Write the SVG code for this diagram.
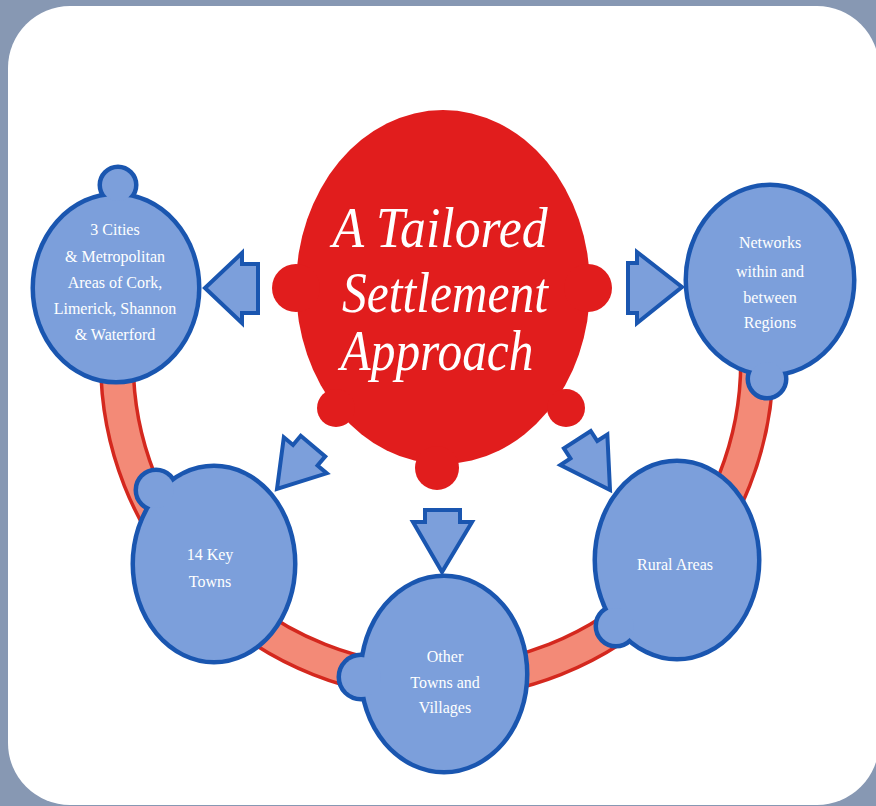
<svg xmlns="http://www.w3.org/2000/svg" width="876" height="806" viewBox="0 0 876 806">
<style>
.edge{fill:none;stroke:#1a56b0;stroke-width:9;stroke-linejoin:round}
.fill{fill:#7c9fdb}
.arrow{fill:#7c9fdb;stroke:#1a56b0;stroke-width:4;stroke-linejoin:miter}
.lbl{font-family:"Liberation Serif","DejaVu Serif",serif;font-size:16px;fill:#ffffff;text-anchor:middle}
.title{font-family:"Liberation Serif","DejaVu Serif",serif;font-style:italic;font-size:56px;fill:#ffffff;text-anchor:middle}
.red{fill:#e11d1d}
</style>
<rect x="0" y="0" width="876" height="806" fill="#8798b3"/>
<rect x="8" y="6" width="871" height="799" rx="62" ry="62" fill="#ffffff"/>

<g id="connectors">
  <path d="M117,362 A320,320 0 0 0 757,362" fill="none" stroke="#d4281e" stroke-width="36"/>
  <path d="M117,362 A320,320 0 0 0 757,362" fill="none" stroke="#f38a77" stroke-width="29"/>
  <polygon class="arrow" points="205,288 242,253 242,264 258,264 258,313 242,313 242,323"/>
  <polygon class="arrow" points="682,287 637,252 637,263 628,263 628,313 637,313 637,323"/>
  <polygon class="arrow" points="442,572 413,522 425,522 425,510 460,510 460,522 472,522"/>
  <polygon class="arrow" transform="translate(277,489) rotate(40)" points="0,0 -28,-44 -16,-44 -16,-56 16,-56 16,-44 28,-44"/>
  <polygon class="arrow" transform="translate(610,490) rotate(-33)" points="0,0 -28,-48 -16,-48 -16,-60 16,-60 16,-48 28,-48"/>
</g>

<g id="node-cities">
  <ellipse class="edge" cx="116" cy="288" rx="81" ry="92"/>
  <circle class="edge" cx="118" cy="185" r="16"/>
  <ellipse class="fill" cx="116" cy="288" rx="81" ry="92"/>
  <circle class="fill" cx="118" cy="185" r="16"/>
  <text class="lbl" x="115" y="235">3 Cities</text>
  <text class="lbl" x="115" y="262">&amp; Metropolitan</text>
  <text class="lbl" x="115" y="288">Areas of Cork,</text>
  <text class="lbl" x="115" y="314">Limerick, Shannon</text>
  <text class="lbl" x="115" y="340">&amp; Waterford</text>
</g>

<g id="node-networks">
  <ellipse class="edge" cx="770" cy="280" rx="82" ry="93"/>
  <circle class="edge" cx="767" cy="379" r="17"/>
  <ellipse class="fill" cx="770" cy="280" rx="82" ry="93"/>
  <circle class="fill" cx="767" cy="379" r="17"/>
  <text class="lbl" x="770" y="248">Networks</text>
  <text class="lbl" x="770" y="277">within and</text>
  <text class="lbl" x="770" y="303">between</text>
  <text class="lbl" x="770" y="328">Regions</text>
</g>

<g id="node-keytowns">
  <ellipse class="edge" cx="214" cy="564" rx="79" ry="96"/>
  <circle class="edge" cx="156" cy="490" r="18"/>
  <ellipse class="fill" cx="214" cy="564" rx="79" ry="96"/>
  <circle class="fill" cx="156" cy="490" r="18"/>
  <text class="lbl" x="210" y="560">14 Key</text>
  <text class="lbl" x="210" y="587">Towns</text>
</g>

<g id="node-othertowns">
  <ellipse class="edge" cx="444" cy="674" rx="81" ry="96"/>
  <circle class="edge" cx="361" cy="677" r="20"/>
  <ellipse class="fill" cx="444" cy="674" rx="81" ry="96"/>
  <circle class="fill" cx="361" cy="677" r="20"/>
  <text class="lbl" x="445" y="662">Other</text>
  <text class="lbl" x="445" y="688">Towns and</text>
  <text class="lbl" x="445" y="713">Villages</text>
</g>

<g id="node-rural">
  <ellipse class="edge" cx="677" cy="560" rx="80" ry="97"/>
  <circle class="edge" cx="616" cy="626" r="18"/>
  <ellipse class="fill" cx="677" cy="560" rx="80" ry="97"/>
  <circle class="fill" cx="616" cy="626" r="18"/>
  <text class="lbl" x="675" y="570">Rural Areas</text>
</g>

<g id="node-center">
  <ellipse class="red" cx="443" cy="287" rx="147" ry="177"/>
  <circle class="red" cx="296" cy="288" r="24"/>
  <circle class="red" cx="588" cy="288" r="24"/>
  <circle class="red" cx="336" cy="408" r="19"/>
  <circle class="red" cx="566" cy="408" r="19"/>
  <circle class="red" cx="437" cy="468" r="22"/>
  <text class="title" x="440" y="247" textLength="215" lengthAdjust="spacingAndGlyphs">A Tailored</text>
  <text class="title" x="445" y="312" textLength="206" lengthAdjust="spacingAndGlyphs">Settlement</text>
  <text class="title" x="437" y="370" textLength="193" lengthAdjust="spacingAndGlyphs">Approach</text>
</g>
</svg>
